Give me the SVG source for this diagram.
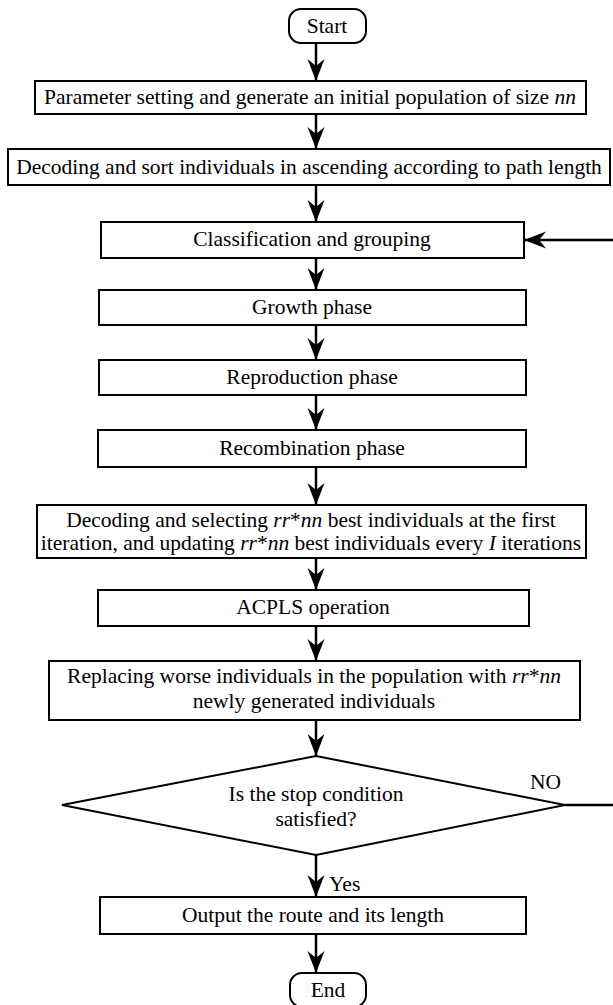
<svg xmlns="http://www.w3.org/2000/svg" width="613" height="1005" viewBox="0 0 613 1005">
  <style>
    .box { fill: #fff; stroke: #000; stroke-width: 2; }
    .t { font-family: 'Liberation Serif', 'Times New Roman', Times, 'DejaVu Serif', serif; font-size: 21.5px; fill: #000; text-anchor: middle; }
    .lbl { font-family: 'Liberation Serif', 'Times New Roman', Times, 'DejaVu Serif', serif; font-size: 21.5px; fill: #000; }
    .it { font-style: italic; }
    .edge { fill: none; stroke: #000; stroke-width: 2.5; }
  </style>
  <defs>
    <marker id="arr" markerUnits="userSpaceOnUse" markerWidth="24" markerHeight="20" refX="22" refY="10" orient="auto">
      <path d="M22,10 L0,1.5 L7,10 L0,18.5 Z" fill="#000"/>
    </marker>
  </defs>
  <rect width="613" height="1005" fill="#fff"/>

  <g id="connectors">
    <line class="edge" x1="316" y1="43" x2="316" y2="81" marker-end="url(#arr)"/>
    <line class="edge" x1="316" y1="114" x2="316" y2="149" marker-end="url(#arr)"/>
    <line class="edge" x1="316" y1="185" x2="316" y2="222" marker-end="url(#arr)"/>
    <line class="edge" x1="316" y1="258" x2="316" y2="290" marker-end="url(#arr)"/>
    <line class="edge" x1="316" y1="325" x2="316" y2="360" marker-end="url(#arr)"/>
    <line class="edge" x1="316" y1="395" x2="316" y2="430" marker-end="url(#arr)"/>
    <line class="edge" x1="316" y1="467" x2="316" y2="505" marker-end="url(#arr)"/>
    <line class="edge" x1="316" y1="558" x2="316" y2="590" marker-end="url(#arr)"/>
    <line class="edge" x1="316" y1="626" x2="316" y2="661" marker-end="url(#arr)"/>
    <line class="edge" x1="316" y1="720" x2="316" y2="756" marker-end="url(#arr)"/>
    <line class="edge" x1="316" y1="855" x2="316" y2="897" marker-end="url(#arr)"/>
    <line class="edge" x1="316" y1="934" x2="316" y2="973" marker-end="url(#arr)"/>
    <!-- NO branch loops back to the grouping step -->
    <polyline class="edge" points="565,805 616,805 616,240 524,240" marker-end="url(#arr)"/>
    <text class="lbl" x="530" y="789">NO</text>
    <text class="lbl" x="329" y="891">Yes</text>
  </g>

  <g id="start">
    <rect class="box" x="289" y="9" width="77" height="34" rx="12"/>
    <text class="t" x="327" y="33">Start</text>
  </g>

  <g id="params">
    <rect class="box" x="35" y="81" width="551" height="33"/>
    <text class="t" x="310" y="104">Parameter setting and generate an initial population of size <tspan class="it">nn</tspan></text>
  </g>

  <g id="decode-sort">
    <rect class="box" x="8" y="149" width="602" height="36"/>
    <text class="t" x="309" y="174">Decoding and sort individuals in ascending according to path length</text>
  </g>

  <g id="classify">
    <rect class="box" x="101" y="222" width="423" height="36"/>
    <text class="t" x="312" y="246">Classification and grouping</text>
  </g>

  <g id="growth">
    <rect class="box" x="99" y="290" width="427" height="35"/>
    <text class="t" x="312" y="314">Growth phase</text>
  </g>

  <g id="reproduction">
    <rect class="box" x="99" y="360" width="427" height="35"/>
    <text class="t" x="312" y="384">Reproduction phase</text>
  </g>

  <g id="recombination">
    <rect class="box" x="98" y="430" width="428" height="37"/>
    <text class="t" x="312" y="455">Recombination phase</text>
  </g>

  <g id="select-best">
    <rect class="box" x="37" y="505" width="549" height="53"/>
    <text class="t" x="311" y="527">Decoding and selecting <tspan class="it">rr</tspan>*<tspan class="it">nn</tspan> best individuals at the first</text>
    <text class="t" x="311" y="550">iteration, and updating <tspan class="it">rr</tspan>*<tspan class="it">nn</tspan> best individuals every <tspan class="it">I</tspan> iterations</text>
  </g>

  <g id="acpls">
    <rect class="box" x="98" y="590" width="431" height="36"/>
    <text class="t" x="313" y="614">ACPLS operation</text>
  </g>

  <g id="replace">
    <rect class="box" x="49" y="661" width="531" height="59"/>
    <text class="t" x="314" y="683">Replacing worse individuals in the population with <tspan class="it">rr</tspan>*<tspan class="it">nn</tspan></text>
    <text class="t" x="314" y="708">newly generated individuals</text>
  </g>

  <g id="stop-check">
    <polygon class="box" points="316,756 565,805 316,855 62,805"/>
    <text class="t" x="316" y="801">Is the stop condition</text>
    <text class="t" x="316" y="826">satisfied?</text>
  </g>

  <g id="output">
    <rect class="box" x="100" y="897" width="426" height="37"/>
    <text class="t" x="313" y="922">Output the route and its length</text>
  </g>

  <g id="end">
    <rect class="box" x="290" y="973" width="76" height="34" rx="12"/>
    <text class="t" x="328" y="997">End</text>
  </g>
</svg>
